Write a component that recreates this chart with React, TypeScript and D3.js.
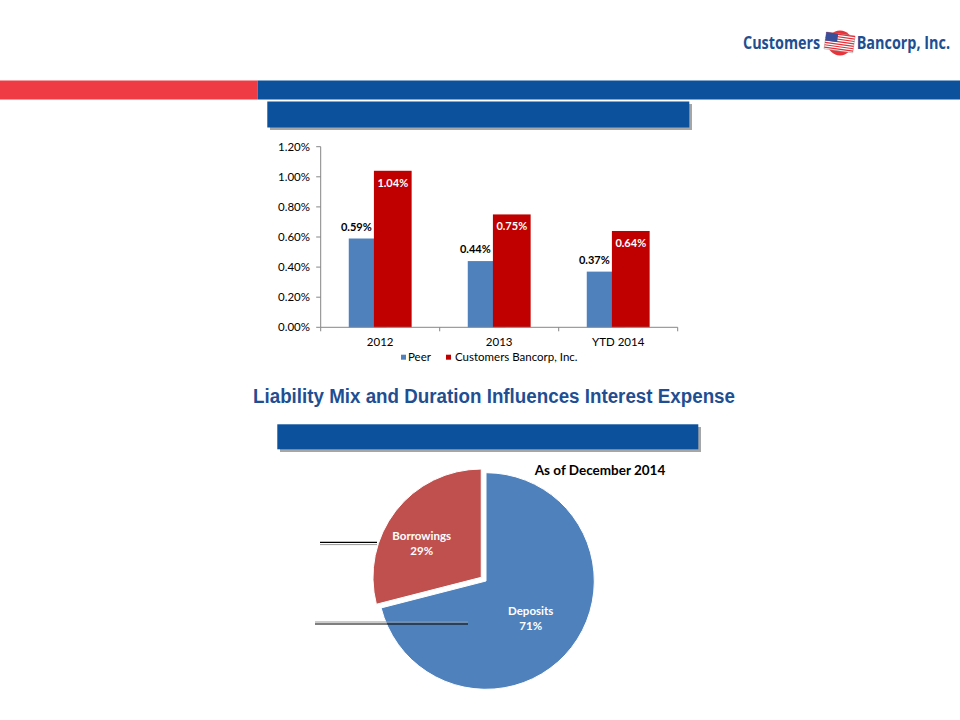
import React from "react";
import * as d3 from "d3";

// bar chart data
const years = ["2012", "2013", "YTD 2014"];
const peerValues = [0.59, 0.44, 0.37];
const customersValues = [1.04, 0.75, 0.64];
const seriesNames = ["Peer", "Customers Bancorp, Inc."];
const yTicks = [0, 0.2, 0.4, 0.6, 0.8, 1.0, 1.2];

// pie data
const mixLabels = ["Deposits", "Borrowings"];
const mixValues = [71, 29];

const BLUE_BAR = "#4f81bd";
const RED_BAR = "#c00000";
const PIE_BLUE = "#4f81bd";
const PIE_RED = "#c0504d";
const HEADER_BLUE = "#0b519c";
const HEADER_RED = "#ee3b44";
const TITLE_BLUE = "#1f4f92";
const AXIS = "#868686";
const FONT = "Lato, 'Open Sans', sans-serif";

const BarChart: React.FC = () => {
  const x = d3.scaleBand<string>().domain(years).range([320.7, 677.7]).padding(0);
  const y = d3.scaleLinear().domain([0, 1.2]).range([327.3, 146.7]);
  const b = x.bandwidth();
  const w = b * 0.317;
  const overlap = w / 3;
  const group = 2 * w - overlap;
  const fmt = (v: number) => `${v.toFixed(2)}%`;

  return (
    <g>
      {/* y axis */}
      <line x1={x.range()[0]} x2={x.range()[0]} y1={y(0)} y2={y(1.2)} stroke={AXIS} />
      {yTicks.map((t) => (
        <g key={t}>
          <line x1={x.range()[0] - 4.5} x2={x.range()[0]} y1={y(t)} y2={y(t)} stroke={AXIS} />
          <text
            x={310}
            y={y(t)}
            dy="0.35em"
            textAnchor="end"
            fontSize={11.5}
            fontFamily={FONT}
            fill="#000"
          >
            {fmt(t)}
          </text>
        </g>
      ))}
      {/* bars */}
      {years.map((yr, i) => {
        const cx = (x(yr) as number) + b / 2;
        const px = cx - group / 2;
        const rx = px + w - overlap;
        return (
          <g key={yr}>
            <rect x={px} y={y(peerValues[i])} width={w} height={y(0) - y(peerValues[i])} fill={BLUE_BAR} />
            <rect
              x={rx}
              y={y(customersValues[i])}
              width={w}
              height={y(0) - y(customersValues[i])}
              fill={RED_BAR}
            />
            <text
              x={px + w * 0.2}
              y={y(peerValues[i]) - 8}
              textAnchor="middle"
              fontSize={11}
              fontWeight="bold"
              fontFamily={FONT}
              fill="#000"
            >
              {fmt(peerValues[i])}
            </text>
            <text
              x={rx + w / 2}
              y={y(customersValues[i]) + 16}
              textAnchor="middle"
              fontSize={11}
              fontWeight="bold"
              fontFamily={FONT}
              fill="#fff"
            >
              {fmt(customersValues[i])}
            </text>
            <text x={cx} y={346} textAnchor="middle" fontSize={11.5} fontFamily={FONT} fill="#000">
              {yr}
            </text>
          </g>
        );
      })}
      {/* x axis */}
      <line x1={x.range()[0]} x2={x.range()[1]} y1={y(0)} y2={y(0)} stroke={AXIS} />
      {[...years.map((yr) => x(yr) as number), x.range()[1]].map((tx, i) => (
        <line key={i} x1={tx} x2={tx} y1={y(0)} y2={y(0) + 4} stroke={AXIS} />
      ))}
      {/* legend */}
      <rect x={401} y={354.7} width={5} height={5} fill={BLUE_BAR} />
      <text x={408} y={360.7} fontSize={11.5} fontFamily={FONT} fill="#000">
        {seriesNames[0]}
      </text>
      <rect x={446} y={354.7} width={5} height={5} fill={RED_BAR} />
      <text x={455} y={360.7} fontSize={11.5} fontFamily={FONT} fill="#000">
        {seriesNames[1]}
      </text>
    </g>
  );
};

const PieChart: React.FC = () => {
  const cx = 486;
  const cy = 581;
  const r = 108.3;
  const pie = d3.pie<number>().sort(null).startAngle(0).endAngle(2 * Math.PI);
  const arcs = pie(mixValues);
  const arc = d3.arc<d3.PieArcDatum<number>>().innerRadius(0).outerRadius(r);
  const colors = [PIE_BLUE, PIE_RED];
  const explode = [0, 6];
  const labelPos: [number, number][] = [
    [530.7, 615],
    [421.7, 540],
  ];

  return (
    <g transform={`translate(${cx},${cy})`}>
      {arcs.map((a, i) => {
        const mid = (a.startAngle + a.endAngle) / 2;
        const dx = Math.sin(mid) * explode[i];
        const dy = -Math.cos(mid) * explode[i];
        return (
          <path
            key={i}
            d={arc(a) || ""}
            transform={`translate(${dx},${dy})`}
            fill={colors[i]}
            stroke="#fff"
            strokeWidth={1}
          />
        );
      })}
      {arcs.map((a, i) => (
        <text
          key={`l${i}`}
          x={labelPos[i][0] - cx}
          y={labelPos[i][1] - cy}
          textAnchor="middle"
          fontSize={11.5}
          fontWeight="bold"
          fontFamily={FONT}
          fill="#fff"
        >
          <tspan x={labelPos[i][0] - cx}>{mixLabels[i]}</tspan>
          <tspan x={labelPos[i][0] - cx} dy={15}>
            {`${a.data}%`}
          </tspan>
        </text>
      ))}
    </g>
  );
};

const Logo: React.FC = () => (
  <g>
    <g transform="translate(743,49.3) scale(0.8,1)">
      <text x={0} y={0} fontSize={18} fontWeight="bold" fontFamily="'Open Sans', sans-serif" fill="#1d4f91">
        Customers
      </text>
    </g>
    <circle cx={840} cy={43} r={12.5} fill="#e8333a" />
    <g transform="translate(840,43) rotate(8)">
      <rect x={-15} y={-9} width={29} height={17} fill="#fff" stroke="#999" strokeWidth={0.5} />
      {d3.range(0, 7).map((k) => (
        <rect key={k} x={-15} y={-9 + k * 2.45} width={29} height={1.2} fill="#e03038" />
      ))}
      <rect x={-15} y={-9} width={12} height={8.5} fill="#3a4f9a" />
    </g>
    <g transform="translate(856.7,49.3) scale(0.8,1)">
      <text x={0} y={0} fontSize={18} fontWeight="bold" fontFamily="'Open Sans', sans-serif" fill="#1d4f91">
        Bancorp, Inc.
      </text>
    </g>
  </g>
);

const App: React.FC = () => {
  return (
    <svg
      width={960}
      height={720}
      style={{ position: "absolute", left: 0, top: 0, background: "#fff" }}
    >
      <rect width={960} height={720} fill="#fff" />
      <Logo />
      {/* header stripes */}
      <rect x={0} y={80.5} width={257.5} height={19} fill={HEADER_RED} />
      <rect x={257.5} y={80.5} width={702.5} height={19} fill={HEADER_BLUE} />
      {/* chart 1 title box */}
      <rect x={270} y={104} width={422} height={26} fill="#a6a6a6" />
      <rect x={267.3} y={101.5} width={422} height={26} fill={HEADER_BLUE} />
      <BarChart />
      <text
        x={253}
        y={402.5}
        fontSize={20}
        fontWeight="bold"
        fontFamily="'Liberation Sans', Arial, sans-serif"
        fill={TITLE_BLUE}
        textLength={482}
        lengthAdjust="spacingAndGlyphs"
      >
        Liability Mix and Duration Influences Interest Expense
      </text>
      {/* chart 2 title box */}
      <rect x={280} y={427} width={421} height={25} fill="#a6a6a6" />
      <rect x={277.3} y={424.3} width={421} height={25} fill={HEADER_BLUE} />
      <text
        x={600}
        y={475}
        textAnchor="middle"
        fontSize={13.5}
        fontWeight="bold"
        fontFamily={FONT}
        fill="#000"
      >
        As of December 2014
      </text>
      <PieChart />
      {/* leader lines */}
      <line x1={320} x2={377} y1={544.6} y2={544.6} stroke="#999" strokeWidth={1} />
      <line x1={320} x2={377} y1={542.4} y2={542.4} stroke="#000" strokeWidth={1.2} />
      <line x1={315} x2={468} y1={622} y2={622} stroke="#999" strokeWidth={1} />
      <line x1={315} x2={468} y1={624} y2={624} stroke="#000" strokeWidth={1.2} />
    </svg>
  );
};

export default App;
